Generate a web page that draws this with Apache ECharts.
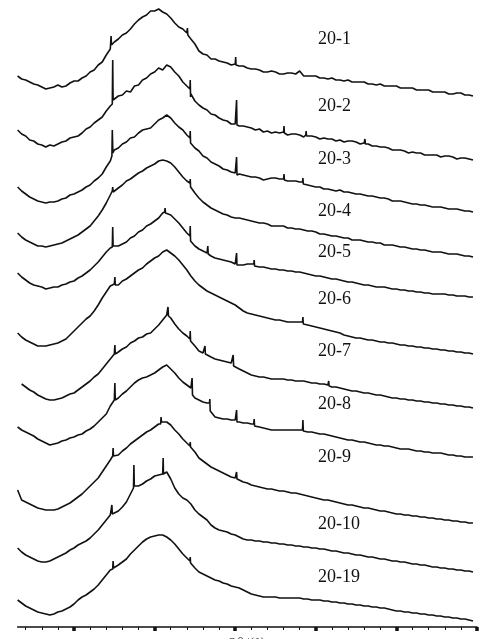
<!DOCTYPE html>
<html>
<head>
<meta charset="utf-8">
<script src="https://cdn.jsdelivr.net/npm/echarts@6/dist/echarts.min.js"></script>
<style>
  html, body { margin: 0; padding: 0; background: #fff; }
  #main { width: 482px; height: 639px; }
</style>
</head>
<body>
<div id="main"></div>
<script>
// XRD 图谱，各样品曲线已按偏移叠放（强度 a.u.）
var names = ['20-1', '20-2', '20-3', '20-4', '20-5', '20-6', '20-7', '20-8', '20-9', '20-10', '20-19'];
var minorTicks = [4, 6, 8, 10, 12, 14, 16, 18, 20, 22, 24, 26, 28, 30, 32, 34, 36, 38, 40, 42, 44, 46, 48, 50, 52, 54, 56, 58, 60];
var majorTicks = [10, 20, 30, 40, 50, 60];

// 2θ 采样点
var twoTheta = [3, 3.5, 4, 4.5, 5, 5.5, 6, 6.5, 7, 7.5,
    8, 8.5, 9, 9.5, 10, 10.5, 11, 11.5, 12, 12.5,
    13, 13.5, 14, 14.5, 15, 15.5, 16, 16.5, 17, 17.5,
    18, 18.5, 19, 19.5, 20, 20.5, 21, 21.5, 22, 22.5,
    23, 23.5, 24, 24.5, 25, 25.5, 26, 26.5, 27, 27.5,
    28, 28.5, 29, 29.5, 30, 30.5, 31, 31.5, 32, 32.5,
    33, 33.5, 34, 34.5, 35, 35.5, 36, 36.5, 37, 37.5,
    38, 38.5, 39, 39.5, 40, 40.5, 41, 41.5, 42, 42.5,
    43, 43.5, 44, 44.5, 45, 45.5, 46, 46.5, 47, 47.5,
    48, 48.5, 49, 49.5, 50, 50.5, 51, 51.5, 52, 52.5,
    53, 53.5, 54, 54.5, 55, 55.5, 56, 56.5, 57, 57.5,
    58, 58.5, 59, 59.5];

var y20_1 = [551, 548, 547, 545, 543, 542, 540, 538, 539, 540,
    542, 540, 541, 544, 546, 546, 549, 551, 555, 557,
    562, 565, 572, 578, 585, 588, 592, 594, 598, 603,
    607, 610, 612, 616, 616, 618, 615, 613, 609, 604,
    600, 598, 594, 588, 583, 576, 573, 572, 568, 568,
    566, 565, 564, 562, 563, 561, 561, 559, 558, 558,
    557, 555, 555, 556, 555, 553, 553, 554, 554, 553,
    556, 551, 551, 551, 551, 549, 549, 548, 549, 547,
    547, 546, 547, 545, 545, 545, 545, 543, 543, 542,
    543, 541, 541, 541, 541, 539, 539, 539, 539, 537,
    537, 537, 537, 535, 535, 535, 535, 533, 533, 534,
    534, 532, 532, 531];
var y20_2 = [497, 493, 491, 487, 486, 483, 482, 480, 482, 481,
    483, 485, 486, 489, 490, 491, 494, 498, 500, 504,
    507, 510, 516, 521, 527, 531, 532, 536, 535, 541,
    542, 547, 549, 553, 555, 559, 557, 562, 560, 555,
    551, 545, 541, 533, 526, 522, 519, 517, 513, 512,
    509, 507, 506, 503, 503, 501, 501, 500, 499, 497,
    498, 495, 496, 494, 495, 494, 495, 492, 493, 493,
    492, 490, 491, 491, 490, 488, 489, 488, 488, 486,
    487, 485, 486, 486, 485, 483, 484, 483, 481, 481,
    480, 480, 479, 477, 477, 477, 476, 474, 475, 474,
    474, 472, 472, 472, 472, 470, 471, 471, 470, 468,
    469, 469, 468, 467];
var y20_3 = [440, 436, 433, 430, 428, 426, 425, 424, 425, 425,
    426, 428, 429, 432, 433, 435, 437, 440, 442, 446,
    449, 453, 460, 466, 477, 479, 483, 485, 489, 490,
    494, 497, 498, 499, 503, 507, 509, 512, 509, 504,
    500, 497, 492, 486, 479, 476, 471, 469, 465, 463,
    461, 458, 457, 455, 454, 453, 452, 451, 450, 450,
    449, 447, 448, 449, 449, 448, 448, 446, 446, 446,
    445, 443, 442, 441, 440, 440, 438, 438, 437, 436,
    437, 435, 435, 434, 433, 433, 432, 431, 431, 430,
    429, 429, 428, 426, 426, 426, 425, 424, 423, 423,
    422, 422, 421, 420, 420, 420, 419, 418, 418, 418,
    417, 416, 416, 415];
var y20_4 = [394, 390, 387, 385, 383, 381, 381, 380, 381, 382,
    383, 384, 386, 388, 390, 392, 395, 398, 401, 406,
    411, 417, 424, 432, 436, 439, 442, 446, 448, 451,
    454, 456, 459, 461, 463, 466, 467, 466, 464, 460,
    455, 450, 446, 439, 434, 429, 425, 422, 419, 417,
    415, 413, 412, 410, 409, 409, 408, 407, 406, 405,
    404, 404, 403, 401, 401, 401, 401, 399, 399, 398,
    398, 397, 396, 396, 395, 393, 393, 392, 391, 391,
    390, 389, 389, 387, 387, 387, 386, 385, 385, 384,
    384, 382, 382, 382, 381, 380, 380, 379, 378, 378,
    377, 377, 376, 375, 375, 375, 374, 373, 373, 373,
    372, 371, 371, 370];
var y20_5 = [354, 350, 347, 344, 342, 341, 340, 338, 339, 340,
    340, 342, 343, 345, 346, 349, 351, 354, 357, 361,
    365, 370, 375, 379, 380, 381, 383, 385, 389, 391,
    395, 397, 401, 403, 406, 409, 414, 415, 412, 408,
    404, 399, 394, 386, 381, 378, 376, 374, 371, 369,
    368, 367, 366, 365, 363, 362, 362, 363, 363, 361,
    360, 360, 359, 358, 358, 357, 357, 356, 356, 355,
    355, 354, 353, 352, 351, 351, 350, 349, 348, 348,
    347, 346, 345, 345, 344, 343, 342, 342, 341, 340,
    340, 340, 339, 338, 338, 337, 337, 336, 336, 335,
    335, 334, 334, 333, 333, 333, 333, 332, 332, 331,
    331, 331, 330, 330];
var y20_6 = [294, 290, 287, 285, 283, 281, 281, 281, 282, 283,
    284, 286, 288, 292, 296, 300, 304, 308, 311, 316,
    322, 329, 335, 341, 343, 342, 346, 348, 351, 354,
    357, 359, 363, 366, 369, 371, 375, 377, 374, 371,
    367, 362, 357, 351, 346, 342, 339, 336, 334, 332,
    330, 328, 326, 324, 322, 319, 316, 314, 313, 312,
    311, 310, 309, 308, 307, 307, 306, 305, 305, 305,
    305, 303, 302, 301, 300, 299, 298, 297, 296, 295,
    294, 292, 291, 290, 289, 289, 288, 287, 287, 286,
    285, 285, 284, 284, 283, 282, 282, 281, 281, 280,
    280, 279, 279, 278, 278, 277, 277, 276, 276, 275,
    275, 274, 274, 273];
var y20_7 = [null, 243, 240, 237, 235, 232, 230, 228, 227, 227,
    228, 229, 231, 233, 234, 237, 240, 243, 246, 250,
    253, 258, 263, 268, 273, 275, 278, 280, 284, 286,
    289, 290, 293, 294, 298, 302, 307, 312, 309, 303,
    298, 294, 291, 287, 281, 276, 274, 272, 270, 268,
    267, 266, 265, 264, 260, 258, 256, 254, 252, 251,
    250, 250, 249, 248, 248, 248, 248, 247, 247, 246,
    246, 246, 245, 244, 244, 243, 243, 242, 240, 240,
    239, 238, 237, 236, 236, 235, 234, 234, 233, 232,
    232, 231, 230, 229, 229, 228, 228, 227, 227, 226,
    226, 225, 225, 224, 224, 223, 223, 222, 222, 221,
    221, 220, 220, 219];
var y20_8 = [200, 197, 195, 193, 191, 188, 186, 184, 182, 183,
    184, 186, 187, 189, 190, 192, 193, 196, 198, 201,
    205, 209, 213, 221, 227, 229, 233, 236, 240, 244,
    247, 249, 250, 252, 254, 257, 260, 262, 258, 254,
    249, 245, 242, 239, 229, 227, 225, 224, 215, 210,
    209, 208, 208, 207, 207, 205, 204, 204, 203, 201,
    200, 199, 198, 197, 197, 197, 197, 197, 197, 197,
    197, 196, 195, 195, 194, 193, 193, 192, 191, 190,
    189, 188, 187, 187, 186, 185, 185, 184, 183, 182,
    182, 181, 181, 180, 179, 178, 178, 178, 177, 176,
    176, 175, 175, 174, 174, 174, 173, 172, 172, 171,
    171, 170, 170, 170];
var y20_9 = [137, 127, 125, 123, 121, 119, 118, 117, 117, 117,
    118, 120, 122, 124, 127, 130, 133, 137, 141, 145,
    149, 155, 161, 167, 171, 172, 176, 179, 183, 186,
    189, 192, 195, 197, 200, 203, 206, 205, 202, 197,
    193, 188, 184, 180, 175, 169, 166, 163, 160, 158,
    156, 154, 152, 150, 149, 147, 145, 144, 142, 141,
    140, 139, 138, 138, 137, 136, 136, 135, 134, 134,
    133, 132, 131, 130, 129, 128, 127, 127, 126, 125,
    124, 123, 122, 122, 121, 120, 119, 119, 118, 117,
    116, 116, 115, 114, 113, 113, 112, 112, 111, 111,
    110, 110, 109, 109, 108, 108, 107, 107, 106, 106,
    105, 105, 104, 104];
var y20_10 = [79, 75, 72, 70, 68, 66, 65, 65, 66, 68,
    70, 72, 74, 77, 79, 82, 84, 86, 89, 93,
    97, 102, 107, 112, 114, 116, 120, 125, 133, 141,
    141, 143, 146, 148, 151, 152, 153, 155, 148, 139,
    133, 129, 127, 123, 117, 113, 110, 107, 102, 99,
    97, 96, 95, 93, 92, 90, 88, 87, 87, 86,
    86, 85, 85, 84, 84, 83, 83, 82, 82, 81,
    81, 80, 80, 79, 79, 78, 78, 77, 76, 76,
    75, 74, 74, 73, 72, 72, 71, 70, 70, 69,
    68, 68, 67, 66, 66, 65, 65, 64, 63, 63,
    62, 62, 61, 60, 60, 59, 59, 58, 58, 57,
    57, 56, 56, 55];
var y20_19 = [27, 24, 21, 19, 17, 15, 14, 13, 12, 13,
    15, 16, 18, 20, 23, 27, 30, 32, 35, 38,
    42, 47, 52, 57, 59, 62, 65, 68, 73, 77,
    81, 85, 88, 90, 91, 92, 92, 90, 87, 83,
    78, 73, 69, 64, 59, 55, 53, 51, 49, 47,
    46, 44, 43, 41, 40, 39, 37, 35, 33, 32,
    31, 30, 30, 30, 30, 29, 29, 29, 29, 29,
    29, 28, 28, 27, 27, 27, 26, 26, 25, 25,
    24, 24, 23, 23, 22, 22, 21, 21, 20, 20,
    19, 19, 18, 17, 16, 16, 15, 15, 14, 14,
    13, 13, 12, 12, 11, 11, 10, 10, 9, 9,
    8, 8, 7, 6];

// 尖锐衍射峰 [2θ, 强度]
var p20_1 = [[14.55, 580], [14.6, 591], [14.65, 582], [24.03, 594], [24.07, 599], [24.12, 592], [30.02, 563], [30.06, 570], [30.1, 562]];
var p20_2 = [[14.75, 523], [14.8, 567], [14.85, 527], [24.38, 538], [24.42, 547], [24.46, 530], [30.12, 503], [30.17, 527], [30.22, 502],
    [36.02, 495], [36.06, 501], [36.1, 494], [38.75, 492], [38.8, 496], [38.85, 491], [46.05, 484], [46.1, 488], [46.15, 483]];
var p20_3 = [[14.7, 471], [14.75, 497], [14.82, 474], [24.38, 489], [24.42, 496], [24.46, 484], [30.12, 454], [30.17, 470], [30.22, 452],
    [36.02, 448], [36.06, 453], [36.1, 447], [38.35, 445], [38.4, 449], [38.45, 443]];
var p20_4 = [[14.75, 436], [14.8, 440], [14.85, 435], [24.38, 444], [24.42, 448], [24.46, 440]];
var p20_5 = [[14.75, 380], [14.8, 400], [14.85, 381], [21.25, 415], [21.3, 419], [21.35, 414], [24.38, 391], [24.42, 401], [24.46, 386],
    [26.55, 374], [26.6, 381], [26.65, 373], [30.12, 365], [30.17, 374], [30.22, 362], [32.3, 363], [32.35, 367], [32.4, 361]];
var p20_6 = [[15.02, 345], [15.07, 350], [15.12, 342], [38.35, 305], [38.4, 310], [38.45, 303]];
var p20_7 = [[15.02, 272], [15.07, 282], [15.12, 273], [21.62, 313], [21.66, 320], [21.72, 311], [24.38, 288], [24.42, 296], [24.46, 286],
    [26.2, 275], [26.25, 281], [26.3, 273], [29.7, 264], [29.75, 272], [29.8, 261], [41.55, 243], [41.6, 246], [41.65, 241]];
var p20_8 = [[15.02, 225], [15.07, 244], [15.12, 227], [24.6, 240], [24.65, 249], [24.7, 232], [26.8, 224], [26.85, 228], [26.9, 216],
    [30.12, 207], [30.17, 217], [30.22, 205], [32.3, 203], [32.35, 208], [32.4, 201], [38.35, 197], [38.4, 207], [38.45, 196]];
var p20_9 = [[14.8, 171], [14.85, 179], [14.9, 171], [20.75, 203], [20.8, 210], [20.85, 205], [24.38, 181], [24.42, 185], [24.46, 180],
    [30.12, 149], [30.17, 155], [30.22, 148]];
var p20_10 = [[14.65, 113], [14.7, 122], [14.75, 113], [17.38, 139], [17.43, 162], [17.48, 141], [21.02, 153], [21.06, 169], [21.1, 153]];
var p20_19 = [[14.8, 58], [14.85, 66], [14.9, 59], [24.38, 66], [24.42, 70], [24.46, 64]];

var curves = [y20_1, y20_2, y20_3, y20_4, y20_5, y20_6, y20_7, y20_8, y20_9, y20_10, y20_19];
var peaks = [p20_1, p20_2, p20_3, p20_4, p20_5, p20_6, p20_7, p20_8, p20_9, p20_10, p20_19];
// 标签位置（像素）
var labelTop = [40, 107, 160, 212, 253, 300, 352, 405, 458, 525, 578];

function buildTrace(ys, ps) {
    var pts = [];
    for (var k = 0; k < twoTheta.length; k++) {
        pts.push([twoTheta[k], ys[k]]);
    }
    pts = pts.concat(ps);
    pts.sort(function (a, b) { return a[0] - b[0]; });
    return pts;
}

var chart = echarts.init(document.getElementById('main'));

var series = [];
for (var i = 0; i < curves.length; i++) {
    series.push({
        name: names[i],
        type: 'line',
        data: buildTrace(curves[i], peaks[i]),
        showSymbol: false,
        connectNulls: false,
        lineStyle: { color: '#111', width: 1.6 },
        z: 3
    });
}

var graphics = [];
for (var j = 0; j < names.length; j++) {
    graphics.push({
        type: 'text',
        left: 318,
        top: labelTop[j] - 10,
        style: {
            text: names[j],
            fill: '#111',
            font: '18px "Liberation Serif", "DejaVu Serif", serif'
        }
    });
}

var option = {
    animation: false,
    backgroundColor: '#fff',
    grid: {
        left: 17.6,
        right: 5,
        top: 0,
        bottom: 12,
        containLabel: false,
        outerBoundsMode: 'none'
    },
    xAxis: [{
        type: 'value',
        min: 3,
        max: 60,
        position: 'bottom',
        name: '2θ/(°)',
        nameLocation: 'middle',
        nameGap: 10,
        nameTextStyle: {
            color: '#555',
            fontSize: 16,
            fontFamily: 'Liberation Serif'
        },
        axisLine: { show: true, lineStyle: { color: '#111', width: 1.5 } },
        axisTick: {
            show: true,
            customValues: minorTicks,
            length: 3,
            lineStyle: { color: '#111', width: 1 }
        },
        axisLabel: { show: false },
        splitLine: { show: false }
    }, {
        type: 'value',
        min: 3,
        max: 60,
        position: 'bottom',
        axisLine: { show: false },
        axisTick: {
            show: true,
            customValues: majorTicks,
            length: 4,
            lineStyle: { color: '#111', width: 3.5 }
        },
        axisLabel: { show: false },
        splitLine: { show: false }
    }],
    yAxis: {
        type: 'value',
        min: 0,
        max: 627,
        show: false
    },
    graphic: graphics,
    series: series
};

chart.setOption(option);
</script>
</body>
</html>
